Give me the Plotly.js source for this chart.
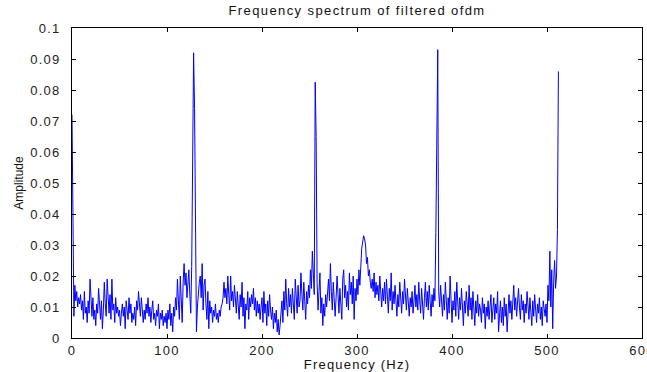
<!DOCTYPE html>
<html>
<head>
<meta charset="utf-8">
<script src="https://cdn.plot.ly/plotly-3.0.1.min.js"></script>
<style>
html,body{margin:0;padding:0;background:#fff;}
#chart{width:647px;height:372px;}
#chart .xtick text, #chart .ytick text, #chart .xtitle{letter-spacing:1.2px;}
#chart .gtitle{letter-spacing:1.4px;}
#chart .ytitle{letter-spacing:0;}
</style>
</head>
<body>
<div id="chart"></div>
<script>
// Frequency bins (Hz), 1 Hz apart from 0 to 512
const freqStart = 0;
const freqStep = 1;
// Amplitude values, one per bin
const amplitude = [
0.072,0.030,0.007,0.017,0.012,0.015,0.010,0.013,0.011,0.014,
0.009,0.012,0.006,0.015,0.008,0.010,0.005,0.012,0.008,0.019,
0.011,0.007,0.013,0.006,0.009,0.004,0.011,0.008,0.016,0.010,
0.006,0.012,0.003,0.009,0.018,0.011,0.007,0.019,0.010,0.008,
0.014,0.006,0.019,0.009,0.011,0.005,0.013,0.008,0.010,0.007,
0.009,0.004,0.008,0.011,0.007,0.010,0.003,0.012,0.009,0.006,
0.013,0.008,0.011,0.005,0.008,0.006,0.010,0.004,0.012,0.009,
0.015,0.011,0.007,0.013,0.008,0.005,0.009,0.006,0.011,0.008,
0.013,0.007,0.010,0.005,0.009,0.012,0.006,0.008,0.004,0.009,
0.007,0.011,0.003,0.008,0.006,0.009,0.004,0.007,0.005,0.008,
0.003,0.009,0.006,0.011,0.004,0.008,0.002,0.010,0.007,0.013,
0.009,0.019,0.012,0.006,0.020,0.014,0.005,0.018,0.024,0.017,
0.021,0.013,0.019,0.022,0.014,0.008,0.023,0.065,0.092,0.074,
0.015,0.002,0.010,0.016,0.018,0.020,0.013,0.024,0.009,0.017,
0.019,0.011,0.006,0.015,0.003,0.012,0.008,0.010,0.005,0.009,
0.007,0.011,0.006,0.008,0.005,0.009,0.007,0.010,0.011,0.013,
0.018,0.013,0.016,0.011,0.020,0.014,0.009,0.020,0.012,0.015,
0.010,0.017,0.013,0.008,0.015,0.011,0.006,0.014,0.010,0.018,
0.007,0.013,0.003,0.011,0.009,0.015,0.006,0.013,0.010,0.014,
0.011,0.016,0.009,0.013,0.007,0.012,0.008,0.011,0.006,0.010,
0.013,0.005,0.015,0.008,0.011,0.004,0.012,0.007,0.014,0.009,
0.006,0.010,0.003,0.008,0.005,0.009,0.002,0.006,0.001,0.004,
0.008,0.012,0.005,0.015,0.009,0.019,0.011,0.007,0.016,0.010,
0.014,0.008,0.016,0.011,0.006,0.019,0.013,0.008,0.017,0.010,
0.012,0.021,0.014,0.009,0.018,0.012,0.006,0.015,0.011,0.017,
0.013,0.022,0.016,0.028,0.020,0.014,0.0825,0.065,0.018,0.009,
0.015,0.021,0.008,0.013,0.004,0.011,0.007,0.014,0.010,0.016,
0.019,0.012,0.024,0.015,0.009,0.018,0.011,0.007,0.013,0.020,
0.014,0.008,0.016,0.012,0.006,0.019,0.022,0.013,0.017,0.010,
0.015,0.009,0.021,0.014,0.018,0.011,0.020,0.006,0.016,0.012,
0.019,0.014,0.022,0.017,0.025,0.029,0.031,0.033,0.032,0.030,
0.024,0.026,0.020,0.022,0.018,0.016,0.019,0.015,0.021,0.013,
0.018,0.014,0.017,0.012,0.020,0.015,0.010,0.016,0.012,0.018,
0.011,0.019,0.014,0.008,0.016,0.012,0.021,0.009,0.015,0.011,
0.017,0.013,0.007,0.014,0.010,0.018,0.012,0.008,0.015,0.011,
0.019,0.013,0.009,0.016,0.011,0.007,0.013,0.010,0.015,0.008,
0.012,0.017,0.010,0.014,0.009,0.018,0.012,0.008,0.016,0.011,
0.006,0.013,0.018,0.010,0.015,0.009,0.017,0.012,0.007,0.014,
0.010,0.016,0.012,0.034,0.0775,0.093,0.015,0.010,0.017,0.012,
0.007,0.014,0.009,0.018,0.011,0.006,0.013,0.008,0.020,0.010,
0.005,0.012,0.009,0.015,0.007,0.018,0.011,0.006,0.013,0.009,
0.016,0.010,0.004,0.012,0.008,0.015,0.011,0.007,0.017,0.009,
0.013,0.006,0.015,0.010,0.004,0.012,0.008,0.014,0.007,0.011,
0.009,0.005,0.013,0.008,0.011,0.003,0.010,0.007,0.012,0.006,
0.009,0.014,0.005,0.010,0.013,0.006,0.011,0.008,0.015,0.002,
0.009,0.012,0.005,0.010,0.004,0.013,0.007,0.011,0.002,0.009,
0.014,0.008,0.012,0.006,0.010,0.017,0.009,0.013,0.007,0.011,
0.016,0.010,0.006,0.014,0.009,0.012,0.005,0.011,0.008,0.015,
0.010,0.006,0.013,0.009,0.004,0.012,0.007,0.014,0.010,0.005,
0.011,0.008,0.013,0.006,0.010,0.004,0.012,0.009,0.007,0.011,
0.005,0.017,0.012,0.028,0.010,0.022,0.003,0.018,0.025,0.016,
0.020,0.035,0.086
];
const frequency = amplitude.map((_, i) => freqStart + i * freqStep);

const xTickValues = [0, 100, 200, 300, 400, 500, 600];
const yTickValues = [0, 0.01, 0.02, 0.03, 0.04, 0.05, 0.06, 0.07, 0.08, 0.09, 0.1];
const yTickLabels = ['0', '0.01', '0.02', '0.03', '0.04', '0.05', '0.06', '0.07', '0.08', '0.09', '0.1'];

const fontFamily = '"Liberation Sans", Arial, sans-serif';

const trace = {
  x: frequency,
  y: amplitude,
  type: 'scatter',
  mode: 'lines',
  line: {color: 'rgb(0,0,255)', width: 1},
  hoverinfo: 'x+y'
};

const axisCommon = {
  showline: true,
  linecolor: '#000',
  linewidth: 1,
  mirror: 'ticks',
  ticks: 'inside',
  ticklen: 4,
  tickcolor: '#000',
  showgrid: false,
  zeroline: false,
  ticklabeloverflow: 'allow',
  tickfont: {family: fontFamily, size: 13, color: '#222'}
};

const layout = {
  width: 647,
  height: 372,
  margin: {l: 72, r: 5, t: 28, b: 34},
  paper_bgcolor: '#fff',
  plot_bgcolor: '#fff',
  showlegend: false,
  title: {
    text: 'Frequency spectrum of filtered ofdm',
    font: {family: fontFamily, size: 13, color: '#111'},
    xref: 'paper', x: 0.5, xanchor: 'center',
    y: 0.973, yanchor: 'middle'
  },
  xaxis: Object.assign({}, axisCommon, {
    range: [0, 600],
    tickvals: xTickValues,
    ticktext: xTickValues.map(String),
    ticklabelstandoff: 0,
    title: {text: 'Frequency (Hz)', font: {family: fontFamily, size: 13, color: '#111'}, standoff: 3}
  }),
  yaxis: Object.assign({}, axisCommon, {
    range: [0, 0.1],
    tickvals: yTickValues,
    ticktext: yTickLabels,
    ticklabelstandoff: 8,
    title: {text: 'Amplitude', font: {family: fontFamily, size: 12, color: '#111'}, standoff: 8}
  })
};

Plotly.newPlot('chart', [trace], layout, {displayModeBar: false, staticPlot: true});
</script>
</body>
</html>
